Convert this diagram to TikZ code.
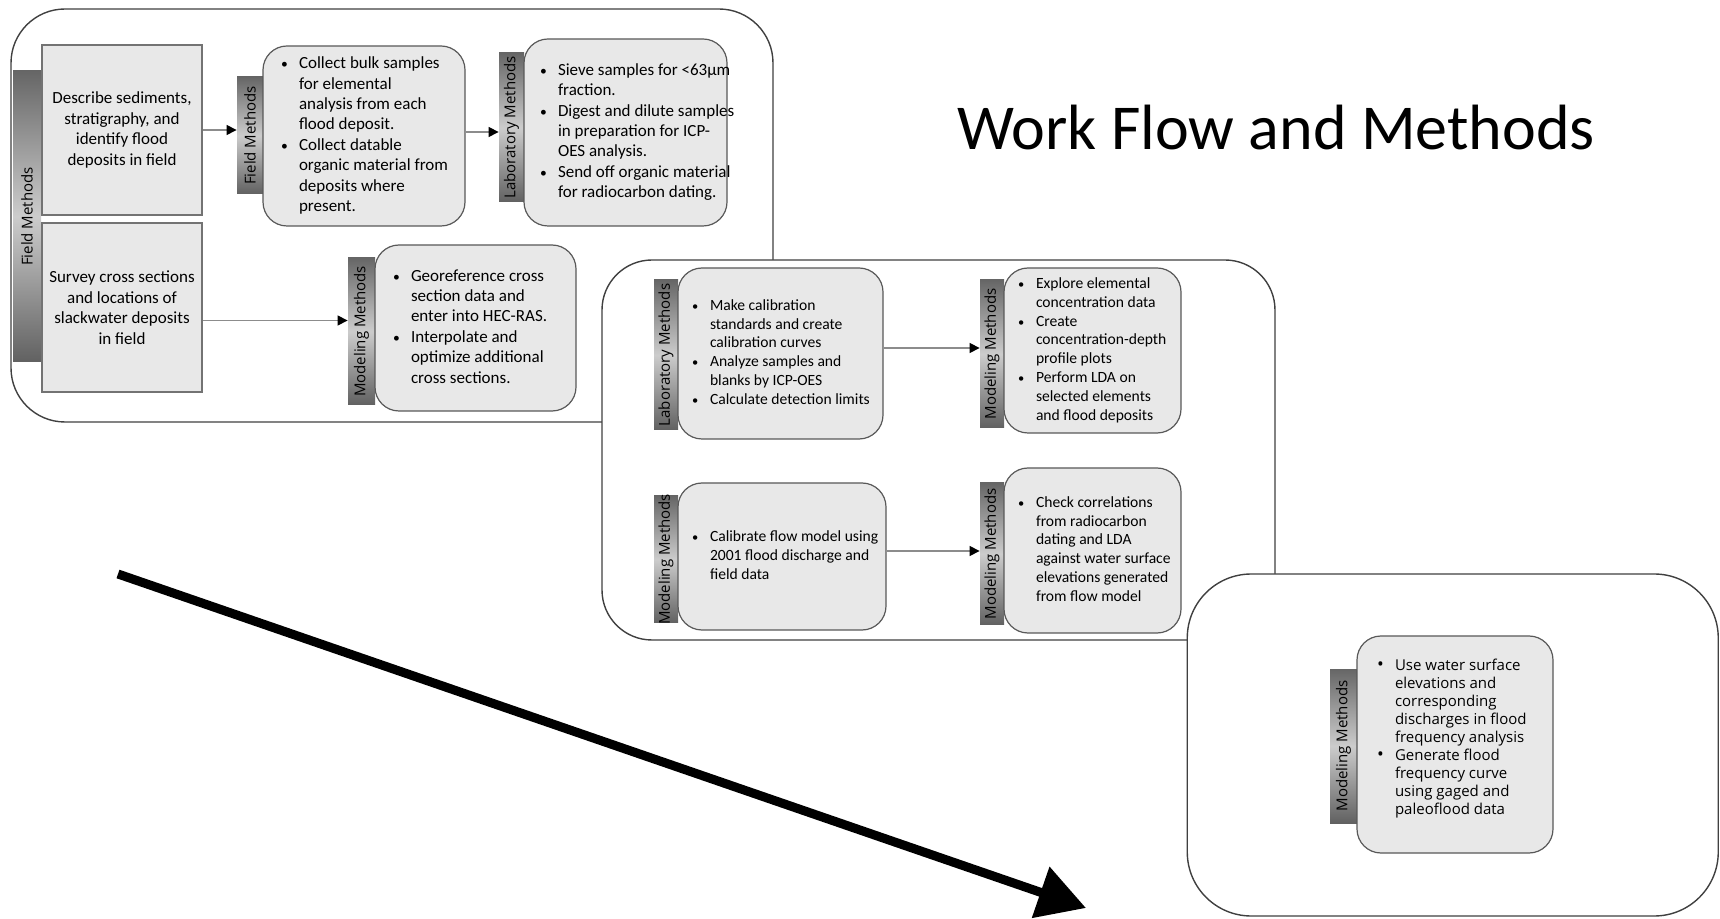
\documentclass[tikz,border=0pt]{standalone}
\usepackage{fontspec}
\setmainfont{Carlito}
\newfontfamily\osans{Open Sans}
\usetikzlibrary{arrows.meta}
\newcommand{\bi}{\makebox[9pt][l]{\scalebox{0.8}{\textbullet}}&}
\newcommand{\bj}{\makebox[9pt][l]{\scalebox{1.2}{\textbullet}}&}
\newcommand{\blist}[2]{\makebox[#1][l]{\begin{tabular}{@{}l@{}l@{}}#2\end{tabular}}}
\begin{document}
\begin{tikzpicture}[x=0.5pt,y=-0.5pt,
  outer/.style={draw=black!75, line width=0.7pt, fill=white, rounded corners=#1, inner sep=0pt},
  sqbox/.style={draw=black!55, line width=0.8pt, fill=black!9, align=center, inner sep=0pt, font=\fontsize{8.5}{10.3}\selectfont},
  rbox/.style={draw=black!65, line width=0.6pt, fill=black!9, rounded corners=12pt, inner xsep=9pt, inner ysep=0pt, font=\fontsize{8.5}{10.2}\selectfont},
  rboxb/.style={rbox, inner xsep=7pt, font=\fontsize{7.8}{9.4}\selectfont},
  rboxc/.style={rbox, inner xsep=10pt, font=\osans\fontsize{7.5}{9}\selectfont},
  sbar/.style={shading=axis, top color=black!60, bottom color=black!62, middle color=black!20, inner sep=0pt},
  lab/.style={rotate=90, inner sep=0pt, font=\osans\fontsize{7.5}{9}\selectfont},
  flow/.style={draw=black!45, line width=0.6pt, -{Triangle[length=5pt,width=5pt,color=black]}},
  big/.style={line width=4.5pt, -{Triangle[length=24pt,width=26pt]}}]
\useasboundingbox (0,0) rectangle (1720,919);

% ---- group 1 ----
\node[outer=27pt, minimum width=381pt, minimum height=206.5pt] (outerA) at (392,215.5) {};
\node[sbar, minimum width=14pt, minimum height=145.5pt, label={[lab]center:Field Methods}] (fmL) at (27,216.5) {};
\node[sqbox, minimum width=80pt, minimum height=85pt] (describe) at (122,130)
  {Describe sediments,\\stratigraphy, and\\identify flood\\deposits in field};
\node[sqbox, minimum width=80pt, minimum height=84.5pt] (survey) at (122,307.5)
  {Survey cross sections\\and locations of\\slackwater deposits\\in field};
\node[sbar, minimum width=13pt, minimum height=58.5pt, label={[lab]center:Field Methods}] (fm2) at (250,135.5) {};
\node[rbox, minimum width=101pt, minimum height=90pt] (collect) at (364,136)
  {\blist{83pt}{\bi Collect bulk samples\\ & for elemental\\ & analysis from each\\ & flood deposit.\\
   \bi Collect datable\\ & organic material from\\ & deposits where\\ & present.}};
\node[sbar, minimum width=12.5pt, minimum height=74.5pt, label={[lab]center:Laboratory Methods}] (lab1) at (511.5,127.5) {};
\node[rbox, inner xsep=8pt, minimum width=101.5pt, minimum height=93.5pt] (sieve) at (625.5,132.5)
  {\blist{85.5pt}{\bi Sieve samples for <63µm\\ & fraction.\\
   \bi Digest and dilute samples\\ & in preparation for ICP-\\ & OES analysis.\\
   \bi Send off organic material\\ & for radiocarbon dating.}};
\node[sbar, minimum width=13.5pt, minimum height=73.5pt, label={[lab]center:Modeling Methods}] (mod1) at (361.5,331.5) {};
\node[rbox, minimum width=100.5pt, minimum height=83pt] (georef) at (475.5,328)
  {\blist{82.5pt}{\bi Georeference cross\\ & section data and\\ & enter into HEC-RAS.\\
   \bi Interpolate and\\ & optimize additional\\ & cross sections.}};
\draw[flow] (describe.east) -- (describe.east -| fm2.west);
\draw[flow] ([yshift=2pt]collect.east) -- ([yshift=2pt]collect.east -| lab1.west);
\draw[flow] ([yshift=-6.5pt]survey.east) -- ([yshift=-6.5pt]survey.east -| mod1.west);

\node[font=\fontsize{32}{38}\selectfont, anchor=base, inner sep=0pt] (title) at (1276,150) {Work Flow and Methods};

% ---- group 2 ----
\node[outer=25pt, minimum width=336.5pt, minimum height=190pt] (outerB) at (938.5,450) {};
\node[sbar, minimum width=12pt, minimum height=75pt, label={[lab]center:Laboratory Methods}] (lab2) at (666,355) {};
\node[rboxb, minimum width=102.5pt, minimum height=85.5pt] (make) at (780.5,353.5)
  {\blist{88.5pt}{\bi Make calibration\\ & standards and create\\ & calibration curves\\
   \bi Analyze samples and\\ & blanks by ICP-OES\\ \bi Calculate detection limits}};
\node[sbar, minimum width=12pt, minimum height=74pt, label={[lab]center:Modeling Methods}] (mod2) at (992,354) {};
\node[rboxb, minimum width=88.5pt, minimum height=82.5pt] (explore) at (1092.5,350.5)
  {\blist{74.5pt}{\bi Explore elemental\\ & concentration data\\ \bi Create\\ & concentration-depth\\ & profile plots\\
   \bi Perform LDA on\\ & selected elements\\ & and flood deposits}};
\node[sbar, minimum width=12pt, minimum height=63.5pt, label={[lab]center:Modeling Methods}] (mod3) at (666,559.5) {};
\node[rboxb, minimum width=104pt, minimum height=73.5pt] (calib) at (782,556.5)
  {\blist{90pt}{\bi Calibrate flow model using\\ & 2001 flood discharge and\\ & field data}};
\node[sbar, minimum width=12pt, minimum height=71pt, label={[lab]center:Modeling Methods}] (mod4) at (992,554) {};
\node[rboxb, minimum width=88.5pt, minimum height=82.5pt] (check) at (1092.5,550.5)
  {\blist{74.5pt}{\bi Check correlations\\ & from radiocarbon\\ & dating and LDA\\ & against water surface\\ & elevations generated\\ & from flow model}};
\draw[flow] ([yshift=2.75pt]make.east) -- ([yshift=2.75pt]make.east -| mod2.west);
\draw[flow] ([yshift=2.75pt]calib.east) -- ([yshift=2.75pt]calib.east -| mod4.west);

% ---- group 3 ----
\node[outer=32pt, minimum width=265.5pt, minimum height=171pt] (outerC) at (1452.75,745) {};
\node[sbar, minimum width=13.5pt, minimum height=77pt, label={[lab]center:Modeling Methods}] (mod5) at (1343.5,746) {};
\node[rboxc, minimum width=98pt, minimum height=108.5pt] (use) at (1455,744.5)
  {\blist{78pt}{\bj Use water surface\\ & elevations and\\ & corresponding\\ & discharges in flood\\ & frequency analysis\\
   \bj Generate flood\\ & frequency curve\\ & using gaged and\\ & paleoflood data\\[6pt]}};

% ---- big arrow ----
\coordinate (bigS) at (118,574);
\coordinate (bigE) at (1086,908);
\draw[big] (bigS) -- (bigE);
\end{tikzpicture}
\end{document}
